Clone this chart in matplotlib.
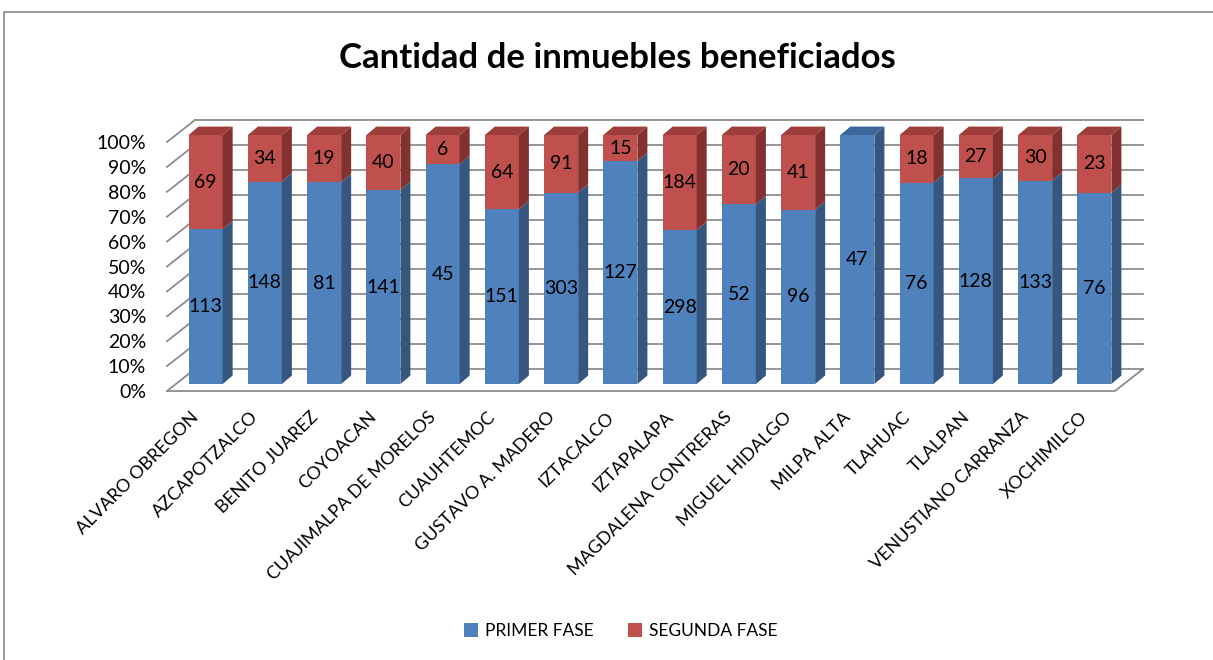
import numpy as np
import matplotlib.pyplot as plt
from matplotlib.patches import Polygon, Patch, Rectangle

plt.rcParams['font.family'] = ['Lato', 'DejaVu Sans']

# ---- data ----
delegaciones = ["ALVARO OBREGON", "AZCAPOTZALCO", "BENITO JUAREZ", "COYOACAN",
                "CUAJIMALPA DE MORELOS", "CUAUHTEMOC", "GUSTAVO A. MADERO", "IZTACALCO",
                "IZTAPALAPA", "MAGDALENA CONTRERAS", "MIGUEL HIDALGO", "MILPA ALTA",
                "TLAHUAC", "TLALPAN", "VENUSTIANO CARRANZA", "XOCHIMILCO"]
primer_fase = [113, 148, 81, 141, 45, 151, 303, 127, 298, 52, 96, 47, 76, 128, 133, 76]
segunda_fase = [69, 34, 19, 40, 6, 64, 91, 15, 184, 20, 41, 0, 18, 27, 30, 23]
series_names = ["PRIMER FASE", "SEGUNDA FASE"]
pct_ticks = list(range(0, 101, 10))
pct_labels = [f"{v}%" for v in pct_ticks]

# ---- styling ----
BLUE, BLUE_SIDE, BLUE_TOP = "#4F81BD", "#35577F", "#3D669A"
RED, RED_SIDE, RED_TOP = "#C0504D", "#82312F", "#9D3E3B"
GRID = "#8C8C8C"
# fake 3D: floor / back wall depth, bar front offset and bar depth (data units)
FLOOR_DX, FLOOR_DY = 0.472, 8.84
OFF_DX, OFF_DY = 0.152, 2.8
BAR_DX, BAR_DY = 0.169, 3.4
BAR_W = 0.574

W, H = 1213, 660
fig = plt.figure(figsize=(W / 100, H / 100), dpi=100)
ax = fig.add_axes([167 / W, 1 - 391 / H, (1115 - 167) / W, (391 - 142) / H])
ax.set_xlim(-0.5, 15.5)
ax.set_ylim(0, 100)
for sp in ax.spines.values():
    sp.set_visible(False)
ax.patch.set_visible(False)

# outer chart-area border (only top/left visible in the crop)
fig.patches.append(Rectangle((4 / W, -0.1), 1.2, 1.1 - 12 / H, transform=fig.transFigure,
                             fill=False, edgecolor="#8A8A8A", linewidth=1.2))

# ---- grid: side diagonals, back wall lines, floor ----
x0, x1 = -0.5, 15.5
for v in pct_ticks:
    ax.plot([x0, x0 + FLOOR_DX], [v, v + FLOOR_DY], color=GRID, lw=1.3, clip_on=False, zorder=1)
    ax.plot([x0 + FLOOR_DX, x1 + FLOOR_DX], [v + FLOOR_DY, v + FLOOR_DY], color=GRID, lw=1.3,
            clip_on=False, zorder=1)
ax.plot([x0, x1, x1 + FLOOR_DX], [0, 0, FLOOR_DY], color=GRID, lw=1.3, clip_on=False, zorder=1)

# ---- bars (100% stacked) ----
x = np.arange(len(delegaciones))
p = np.array(primer_fase, dtype=float)
s = np.array(segunda_fase, dtype=float)
tot = p + s
p_pct = p / tot * 100
s_pct = s / tot * 100

xc = x + OFF_DX
ax.bar(xc, p_pct, BAR_W, bottom=OFF_DY, color=BLUE, zorder=3, clip_on=False)
ax.bar(xc, s_pct, BAR_W, bottom=OFF_DY + p_pct, color=RED, zorder=3, clip_on=False)

for i in range(len(x)):
    xl, xr = xc[i] - BAR_W / 2, xc[i] + BAR_W / 2
    segs = [(0, p_pct[i], BLUE_SIDE, BLUE_TOP), (p_pct[i], 100, RED_SIDE, RED_TOP)]
    for yb, yt, side_c, top_c in segs:
        if yt - yb <= 0:
            continue
        yb, yt = yb + OFF_DY, yt + OFF_DY
        ax.add_patch(Polygon([(xr, yb), (xr + BAR_DX, yb + BAR_DY), (xr + BAR_DX, yt + BAR_DY),
                              (xr, yt)], closed=True, facecolor=side_c, edgecolor="none",
                             zorder=3, clip_on=False))
    top_c = RED_TOP if s_pct[i] > 0 else BLUE_TOP
    yt = 100 + OFF_DY
    ax.add_patch(Polygon([(xl, yt), (xr, yt), (xr + BAR_DX, yt + BAR_DY), (xl + BAR_DX, yt + BAR_DY)],
                         closed=True, facecolor=top_c, edgecolor="none", zorder=3, clip_on=False))

    # value labels centred on each front face
    ax.text(xc[i], OFF_DY + p_pct[i] / 2, f"{int(p[i])}", ha="center", va="center",
            fontsize=14, color="black", zorder=5, clip_on=False)
    if s[i] > 0:
        ax.text(xc[i], OFF_DY + p_pct[i] + s_pct[i] / 2, f"{int(s[i])}", ha="center", va="center",
                fontsize=14, color="black", zorder=5, clip_on=False)

# ---- axes labels ----
ax.set_yticks(pct_ticks)
ax.set_yticklabels(pct_labels, fontsize=14)
ax.set_xticks(x)
ax.set_xticklabels(delegaciones, fontsize=13, rotation=45, ha="right", va="center",
                   rotation_mode="anchor")
ax.tick_params(axis="y", length=0, pad=15)
ax.tick_params(axis="x", length=0, pad=17)

fig.text(617 / W, 1 - 58 / H, "Cantidad de inmuebles beneficiados", ha="center", va="center",
         fontsize=25, fontweight="bold")

handles = [Patch(facecolor=BLUE), Patch(facecolor=RED)]
fig.legend(handles, series_names, loc="center", bbox_to_anchor=(621 / W, 1 - 631 / H), ncol=2,
           frameon=False, fontsize=12.5, handlelength=0.8, handleheight=0.8, handletextpad=0.4,
           columnspacing=2.0)

fig.savefig("out.png", dpi=100)
